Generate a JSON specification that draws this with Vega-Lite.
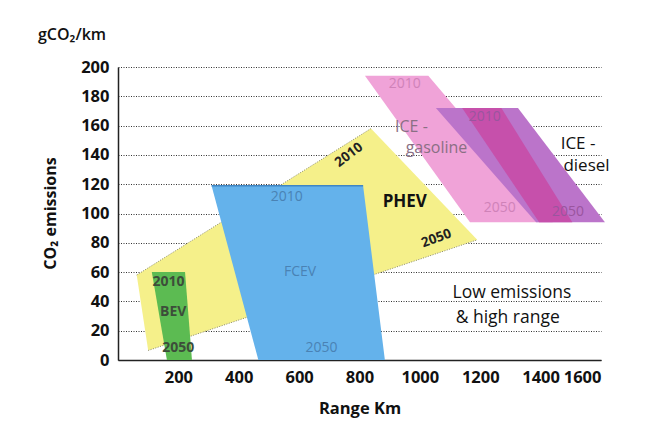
{
  "$schema": "https://vega.github.io/schema/vega-lite/v6.json",
  "width": 483,
  "height": 293,
  "autosize": {"type": "none"},
  "padding": {"left": 118, "top": 67, "right": 48, "bottom": 70},
  "background": "white",
  "config": {"view": {"stroke": null}, "font": "Open Sans"},
  "title": {"text": "gCO₂/km", "anchor": "start", "frame": "group", "dx": -80, "offset": 16, "font": "Open Sans", "fontSize": 16, "fontWeight": 600, "color": "#111"},
  "datasets": {
    "polys": [
      {"shape": "PHEV", "i": 0, "x": 62, "y": 58},
      {"shape": "PHEV", "i": 1, "x": 838, "y": 158},
      {"shape": "PHEV", "i": 2, "x": 1190, "y": 82},
      {"shape": "PHEV", "i": 3, "x": 100, "y": 6.5},
      {"shape": "FCEV", "i": 0, "x": 310, "y": 119},
      {"shape": "FCEV", "i": 1, "x": 812, "y": 119},
      {"shape": "FCEV", "i": 2, "x": 884, "y": 0},
      {"shape": "FCEV", "i": 3, "x": 465, "y": 0},
      {"shape": "BEV", "i": 0, "x": 112, "y": 60},
      {"shape": "BEV", "i": 1, "x": 222, "y": 60},
      {"shape": "BEV", "i": 2, "x": 245, "y": 0},
      {"shape": "BEV", "i": 3, "x": 162, "y": 0},
      {"shape": "ICEg", "i": 0, "x": 818, "y": 194},
      {"shape": "ICEg", "i": 1, "x": 1028, "y": 194},
      {"shape": "ICEg", "i": 2, "x": 1440, "y": 94},
      {"shape": "ICEg", "i": 3, "x": 1166, "y": 94},
      {"shape": "ICEd", "i": 0, "x": 1053, "y": 172},
      {"shape": "ICEd", "i": 1, "x": 1325, "y": 172},
      {"shape": "ICEd", "i": 2, "x": 1613, "y": 94},
      {"shape": "ICEd", "i": 3, "x": 1385, "y": 94},
      {"shape": "band", "i": 0, "x": 1140, "y": 172},
      {"shape": "band", "i": 1, "x": 1270, "y": 172},
      {"shape": "band", "i": 2, "x": 1505, "y": 94},
      {"shape": "band", "i": 3, "x": 1395, "y": 94}
    ],
    "edges": [
      {"edge": "PHEVtop", "i": 0, "x": 62, "y": 58},
      {"edge": "PHEVtop", "i": 1, "x": 838, "y": 158},
      {"edge": "PHEVbot", "i": 0, "x": 100, "y": 6.5},
      {"edge": "PHEVbot", "i": 1, "x": 1190, "y": 82},
      {"edge": "FCEVtop", "i": 0, "x": 310, "y": 119},
      {"edge": "FCEVtop", "i": 1, "x": 812, "y": 119}
    ],
    "labels": [
      {"g": "phev", "x": 950, "y": 108, "t": "PHEV"},
      {"g": "phev2010", "x": 765, "y": 140, "t": "2010"},
      {"g": "phev2050", "x": 1055, "y": 83, "t": "2050"},
      {"g": "fcev", "x": 559, "y": 111.5, "t": "2010"},
      {"g": "fcev", "x": 603, "y": 60, "t": "FCEV"},
      {"g": "fcev", "x": 674, "y": 8, "t": "2050"},
      {"g": "bev", "x": 167, "y": 53, "t": "2010"},
      {"g": "bev", "x": 183, "y": 33, "t": "BEV"},
      {"g": "bev", "x": 200, "y": 8, "t": "2050"},
      {"g": "pink", "x": 950, "y": 188.5, "t": "2010"},
      {"g": "pink", "x": 1265, "y": 104, "t": "2050"},
      {"g": "pinkname", "x": 972, "y": 159, "t": "ICE -"},
      {"g": "pinkname", "x": 1055, "y": 145, "t": "gasoline"},
      {"g": "purple", "x": 1215, "y": 166, "t": "2010"},
      {"g": "purple", "x": 1491, "y": 101, "t": "2050"},
      {"g": "diesel", "x": 1524, "y": 147.5, "t": "ICE -"},
      {"g": "diesel", "x": 1552, "y": 132.5, "t": "diesel"},
      {"g": "low", "x": 1305, "y": 45.5, "t": "Low emissions"},
      {"g": "low", "x": 1291, "y": 29, "t": "& high range"}
    ]
  },
  "encoding": {
    "x": {"field": "x", "type": "quantitative",
      "scale": {"domain": [0, 1600], "nice": false, "zero": false},
      "axis": {"title": "Range Km", "values": [200, 400, 600, 800, 1000, 1200, 1400, 1600], "format": "d", "grid": false, "ticks": false,
        "domainColor": "#222", "domainWidth": 1.5, "labelFont": "Open Sans", "labelFontSize": 16.5, "labelFontWeight": "bold", "labelColor": "#111", "labelPadding": 9,
        "titleFont": "Open Sans", "titleFontSize": 16.5, "titleFontWeight": "bold", "titleColor": "#111", "titleY": 40}},
    "y": {"field": "y", "type": "quantitative",
      "scale": {"domain": [0, 200], "nice": false, "zero": false},
      "axis": {"title": "CO₂ emissions", "values": [0, 20, 40, 60, 80, 100, 120, 140, 160, 180, 200], "grid": true, "gridDash": [1, 1.5], "gridColor": "#333", "gridWidth": 1.2, "ticks": false,
        "domainColor": "#222", "domainWidth": 1.5, "labelFont": "Open Sans", "labelFontSize": 16.5, "labelFontWeight": "bold", "labelColor": "#111", "labelPadding": 9,
        "titleFont": "Open Sans", "titleFontSize": 16, "titleFontWeight": "bold", "titleColor": "#111", "titleX": -60, "titleY": 146}}
  },
  "layer": [
    {"data": {"name": "polys"}, "transform": [{"filter": "datum.shape == 'PHEV'"}], "mark": {"type": "line", "filled": true, "color": "#f5f08a", "strokeWidth": 0}, "encoding": {"order": {"field": "i", "type": "quantitative"}}},
    {"data": {"name": "edges"}, "transform": [{"filter": "datum.edge != 'FCEVtop'"}], "mark": {"type": "line", "color": "#8a8a70", "strokeWidth": 1, "strokeDash": [1, 1.5]}, "encoding": {"detail": {"field": "edge"}, "order": {"field": "i", "type": "quantitative"}}},
    {"data": {"name": "polys"}, "transform": [{"filter": "datum.shape == 'FCEV'"}], "mark": {"type": "line", "filled": true, "color": "#64b2eb", "strokeWidth": 0}, "encoding": {"order": {"field": "i", "type": "quantitative"}}},
    {"data": {"name": "edges"}, "transform": [{"filter": "datum.edge == 'FCEVtop'"}], "mark": {"type": "line", "color": "#3f86c4", "strokeWidth": 1.5}, "encoding": {"order": {"field": "i", "type": "quantitative"}}},
    {"data": {"name": "polys"}, "transform": [{"filter": "datum.shape == 'BEV'"}], "mark": {"type": "line", "filled": true, "color": "#5cbb52", "strokeWidth": 0}, "encoding": {"order": {"field": "i", "type": "quantitative"}}},
    {"data": {"name": "polys"}, "transform": [{"filter": "datum.shape == 'ICEg'"}], "mark": {"type": "line", "filled": true, "color": "#f0a3d8", "strokeWidth": 0}, "encoding": {"order": {"field": "i", "type": "quantitative"}}},
    {"data": {"name": "polys"}, "transform": [{"filter": "datum.shape == 'ICEd'"}], "mark": {"type": "line", "filled": true, "color": "#bb74ca", "strokeWidth": 0}, "encoding": {"order": {"field": "i", "type": "quantitative"}}},
    {"data": {"name": "polys"}, "transform": [{"filter": "datum.shape == 'band'"}], "mark": {"type": "line", "filled": true, "color": "#c650ab", "strokeWidth": 0}, "encoding": {"order": {"field": "i", "type": "quantitative"}}},
    {"data": {"name": "labels"}, "transform": [{"filter": "datum.g == 'phev'"}], "mark": {"type": "text", "font": "Open Sans", "fontSize": 17, "fontWeight": "bold", "color": "#111"}, "encoding": {"text": {"field": "t"}}},
    {"data": {"name": "labels"}, "transform": [{"filter": "datum.g == 'phev2010'"}], "mark": {"type": "text", "font": "Open Sans", "fontSize": 13.5, "fontWeight": "bold", "color": "#222", "angle": 323}, "encoding": {"text": {"field": "t"}}},
    {"data": {"name": "labels"}, "transform": [{"filter": "datum.g == 'phev2050'"}], "mark": {"type": "text", "font": "Open Sans", "fontSize": 13.5, "fontWeight": "bold", "color": "#222", "angle": 340}, "encoding": {"text": {"field": "t"}}},
    {"data": {"name": "labels"}, "transform": [{"filter": "datum.g == 'fcev'"}], "mark": {"type": "text", "font": "Open Sans", "fontSize": 14, "color": "#4a82b4"}, "encoding": {"text": {"field": "t"}}},
    {"data": {"name": "labels"}, "transform": [{"filter": "datum.g == 'bev'"}], "mark": {"type": "text", "font": "Open Sans", "fontSize": 14, "fontWeight": "bold", "color": "#3d4d3a"}, "encoding": {"text": {"field": "t"}}},
    {"data": {"name": "labels"}, "transform": [{"filter": "datum.g == 'pink'"}], "mark": {"type": "text", "font": "Open Sans", "fontSize": 14, "color": "#cf82b8"}, "encoding": {"text": {"field": "t"}}},
    {"data": {"name": "labels"}, "transform": [{"filter": "datum.g == 'pinkname'"}], "mark": {"type": "text", "font": "Open Sans", "fontSize": 16, "color": "#8a6f84"}, "encoding": {"text": {"field": "t"}}},
    {"data": {"name": "labels"}, "transform": [{"filter": "datum.g == 'purple'"}], "mark": {"type": "text", "font": "Open Sans", "fontSize": 14, "color": "#9a559e"}, "encoding": {"text": {"field": "t"}}},
    {"data": {"name": "labels"}, "transform": [{"filter": "datum.g == 'diesel'"}], "mark": {"type": "text", "font": "Open Sans", "fontSize": 17, "color": "#111"}, "encoding": {"text": {"field": "t"}}},
    {"data": {"name": "labels"}, "transform": [{"filter": "datum.g == 'low'"}], "mark": {"type": "text", "font": "Open Sans", "fontSize": 17.5, "color": "#111"}, "encoding": {"text": {"field": "t"}}}
  ]
}
